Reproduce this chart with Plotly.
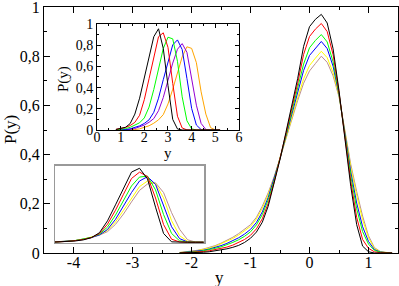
import plotly.graph_objects as go

# ---------------- data ----------------
x_main = [-2.2, -2.1, -2.0, -1.9, -1.8, -1.7, -1.6, -1.5, -1.4, -1.3, -1.2, -1.1, -1.0,
          -0.9, -0.8, -0.7, -0.6, -0.5, -0.4, -0.3, -0.2, -0.1, 0.0, 0.1, 0.2, 0.3,
          0.4, 0.5, 0.6, 0.7, 0.8, 0.9, 1.0, 1.1, 1.2, 1.3, 1.4]
main_black = [0, 0, 0, .001, .003, .005, .008, .012, .017, .023, .031, .043, .060, .085, .125,
              .19, .28, .38, .49, .60, .71, .84, .92, .95, .97, .935, .83, .66, .46, .27, .115,
              .028, .005, 0, 0, 0, 0]
main_red = [0, .001, .002, .003, .006, .009, .013, .018, .024, .032, .042, .055, .072, .098, .139,
            .202, .287, .381, .484, .588, .69, .807, .88, .91, .933, .90, .806, .654, .469, .29,
            .145, .055, .019, .005, .001, 0, 0]
main_green = [.001, .002, .003, .006, .009, .013, .019, .025, .033, .043, .054, .068, .086, .114,
              .156, .216, .294, .382, .478, .574, .667, .768, .834, .864, .888, .858, .777, .648,
              .479, .313, .18, .087, .036, .011, .003, 0, 0]
main_blue = [.001, .003, .005, .0075, .011, .016, .022, .030, .039, .050, .062, .077, .096, .124,
             .167, .226, .30, .383, .474, .564, .652, .742, .803, .833, .86, .831, .759, .644,
             .486, .329, .203, .107, .047, .014, .004, .001, 0]
main_yellow = [.002, .0035, .006, .0098, .014, .020, .027, .037, .047, .059, .073, .090, .108,
               .138, .182, .238, .306, .384, .468, .552, .631, .708, .762, .792, .82, .794, .733,
               .638, .495, .349, .234, .135, .062, .019, .005, .001, 0]
main_tan = [.002, .004, .007, .011, .016, .022, .030, .040, .051, .064, .079, .096, .115, .145,
            .19, .245, .31, .385, .465, .545, .62, .69, .74, .77, .80, .775, .72, .635, .50, .36,
            .25, .15, .07, .022, .006, .001, 0]

x_ins1 = [0.8, 1.0, 1.2, 1.4, 1.6, 1.8, 2.0, 2.2, 2.4, 2.6, 2.8, 3.0, 3.2, 3.4, 3.6, 3.8, 4.0,
          4.2, 4.4, 4.6, 4.8, 5.0, 5.2]
ins1_black = [.005, .012, .025, .06, .15, .3, .5, .7, .88, .955, .77, .42, .1, .01, 0, 0, 0, 0,
              0, 0, 0, 0, 0]
ins1_red = [.006, .013, .024, .042, .072, .139, .287, .484, .69, .88, .917, .78, .44, .13, .019,
            .001, 0, 0, 0, 0, 0, 0, 0]
ins1_green = [.002, .006, .013, .025, .043, .068, .114, .216, .382, .574, .768, .875, .86, .648,
              .313, .087, .011, 0, 0, 0, 0, 0, 0]
ins1_blue = [0, .001, .005, .011, .022, .039, .062, .096, .167, .30, .474, .652, .803, .85, .759,
             .486, .203, .047, .004, 0, 0, 0, 0]
ins1_violet = [0, 0, .002, .006, .014, .027, .047, .073, .108, .182, .306, .468, .631, .762, .815,
               .733, .495, .234, .062, .005, 0, 0, 0]
ins1_orange = [0, 0, 0, .001, .004, .011, .022, .040, .064, .096, .145, .245, .385, .545, .69,
               .785, .77, .635, .36, .15, .022, .001, 0]

x_ins2 = [-2.0, -1.8, -1.6, -1.4, -1.2, -1.0, -0.8, -0.6, -0.4, -0.2, 0.0, 0.2, 0.4, 0.6, 0.8,
          1.0, 1.2, 1.4, 1.6, 1.8]
ins2_black = [0, .003, .008, .017, .031, .06, .125, .28, .49, .71, .92, .97, .83, .46, .115,
              .005, 0, 0, 0, 0]
ins2_red = [.0014, .004, .011, .021, .036, .062, .114, .236, .42, .629, .836, .919, .862, .58,
            .232, .04, .003, 0, 0, 0]
ins2_green = [.0017, .005, .012, .023, .040, .064, .106, .198, .356, .542, .738, .855, .867,
              .686, .363, .115, .018, .001, 0, 0]
ins2_blue = [.001, .005, .011, .022, .039, .062, .096, .167, .30, .474, .652, .803, .86, .759,
             .486, .203, .047, .004, 0, 0]
ins2_yellow = [.001, .005, .012, .023, .041, .065, .097, .156, .265, .418, .583, .73, .803, .77,
               .581, .283, .086, .013, .0005, 0]
ins2_tan = [.001, .0036, .010, .021, .038, .061, .093, .139, .234, .37, .529, .68, .764, .78,
            .652, .388, .17, .032, .002, 0]

main_xticks = [-4, -3, -2, -1, 0, 1]
main_xticklabels = ["-4", "-3", "-2", "-1", "0", "1"]
yticks = [0, 0.2, 0.4, 0.6, 0.8, 1.0]
yticklabels = ["0", "0,2", "0,4", "0,6", "0,8", "1"]
ins1_xticks = [0, 1, 2, 3, 4, 5, 6]
ins1_xticklabels = ["0", "1", "2", "3", "4", "5", "6"]

# ---------------- figure ----------------
C_BLACK, C_RED, C_GREEN, C_BLUE = "#000000", "#ff0000", "#00ff00", "#0000ff"
C_YELLOW, C_TAN, C_VIOLET, C_ORANGE = "#ffff00", "#bc8f8f", "#9400d3", "#ffa500"

fig = go.Figure()

def add(x, y, color, xa, ya):
    fig.add_trace(go.Scatter(x=x, y=y, mode="lines", xaxis=xa, yaxis=ya,
                             line=dict(color=color, width=1), hoverinfo="skip"))

for ys, c in [(main_tan, C_TAN), (main_yellow, C_YELLOW), (main_blue, C_BLUE),
              (main_green, C_GREEN), (main_red, C_RED), (main_black, C_BLACK)]:
    add(x_main, ys, c, "x", "y")
for ys, c in [(ins1_orange, C_ORANGE), (ins1_violet, C_VIOLET), (ins1_blue, C_BLUE),
              (ins1_green, C_GREEN), (ins1_red, C_RED), (ins1_black, C_BLACK)]:
    add(x_ins1, ys, c, "x2", "y2")
for ys, c in [(ins2_tan, C_TAN), (ins2_yellow, C_YELLOW), (ins2_blue, C_BLUE),
              (ins2_green, C_GREEN), (ins2_red, C_RED), (ins2_black, C_BLACK)]:
    add(x_ins2, ys, c, "x3", "y3")

FONT = "Liberation Serif"
axis_common = dict(showline=True, linecolor="black", linewidth=1, mirror="ticks",
                   ticks="inside", tickcolor="black", showgrid=False, zeroline=False,
                   automargin=False, ticklabeloverflow="allow")

fig.update_layout(
    width=399, height=286,
    margin=dict(l=44, r=1, t=7, b=33, pad=0, autoexpand=False),
    paper_bgcolor="white", plot_bgcolor="white",
    showlegend=False,
    font=dict(family=FONT, size=16, color="black"),
    xaxis=dict(**axis_common, domain=[0, 1], range=[-4.5, 1.5], anchor="y",
               tickmode="array", tickvals=main_xticks, ticktext=main_xticklabels, ticklen=6,
               minor=dict(ticks="inside", ticklen=3, tickcolor="black", tickmode="linear",
                          tick0=0, dtick=0.5),
               tickfont=dict(family=FONT, size=16), ticklabelstandoff=-5),
    yaxis=dict(**axis_common, domain=[0, 1], range=[0, 1.0], anchor="x",
               tickmode="array", tickvals=yticks, ticktext=yticklabels, ticklen=6,
               minor=dict(ticks="inside", ticklen=3, tickcolor="black", tickmode="linear",
                          tick0=0, dtick=0.1),
               tickfont=dict(family=FONT, size=16)),
    xaxis2=dict(**axis_common, domain=[0.1497, 0.5508], range=[0, 6], anchor="y2",
                tickmode="array", tickvals=ins1_xticks, ticktext=ins1_xticklabels, ticklen=4,
                minor=dict(ticks="inside", ticklen=2, tickcolor="black", tickmode="linear",
                           tick0=0, dtick=0.5),
                tickfont=dict(family=FONT, size=14), ticklabelstandoff=-6),
    yaxis2=dict(**axis_common, domain=[0.5, 0.9309], range=[0, 1.0], anchor="x2",
                tickmode="array", tickvals=yticks, ticktext=yticklabels, ticklen=4,
                minor=dict(ticks="inside", ticklen=2, tickcolor="black", tickmode="linear",
                           tick0=0, dtick=0.1),
                tickfont=dict(family=FONT, size=14)),
    xaxis3=dict(showline=True, linecolor="#999999", linewidth=1.5, mirror=True, ticks="",
                showticklabels=False, showgrid=False, zeroline=False, automargin=False,
                domain=[0.0311, 0.452], range=[-1.91, 1.81], anchor="y3"),
    yaxis3=dict(showline=True, linecolor="#999999", linewidth=1.5, mirror=True, ticks="",
                showticklabels=False, showgrid=False, zeroline=False, automargin=False,
                domain=[0.0407, 0.3537], range=[-0.01, 1.0], anchor="x3"),
    annotations=[
        dict(text="y", xref="paper", yref="paper", x=0.497, y=-0.1016, showarrow=False,
             xanchor="center", yanchor="middle", font=dict(family=FONT, size=17)),
        dict(text="P(y)", xref="paper", yref="paper", x=-0.096, y=0.5, showarrow=False,
             textangle=-90, xanchor="center", yanchor="middle", font=dict(family=FONT, size=17)),
        dict(text="y", xref="paper", yref="paper", x=0.350, y=0.4065, showarrow=False,
             xanchor="center", yanchor="middle", font=dict(family=FONT, size=15)),
        dict(text="P(y)", xref="paper", yref="paper", x=0.0537, y=0.707, showarrow=False,
             textangle=-90, xanchor="center", yanchor="middle", font=dict(family=FONT, size=15)),
    ],
)

fig.write_html("out.html", config={"displayModeBar": False, "staticPlot": True},
               post_script="document.body.style.margin='0';document.body.style.padding='0';")
